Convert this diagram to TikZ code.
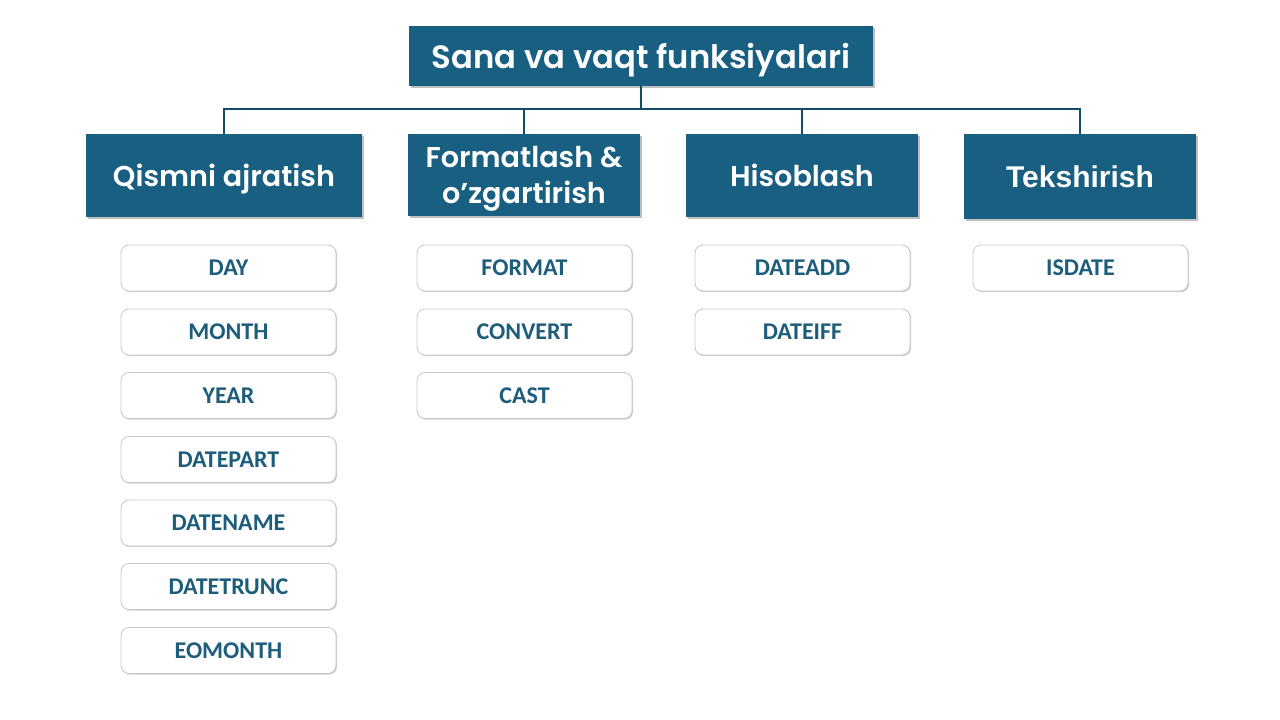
\documentclass[tikz,border=0pt]{standalone}
\usepackage{fontspec}
\newfontfamily\popfont{Poppins SemiBold}
\newfontfamily\calfont{Carlito}
\newfontfamily\arialfont{Liberation Sans}
\usetikzlibrary{shadows}
\definecolor{dblue}{HTML}{185F82}
\definecolor{ltext}{HTML}{1D5D7C}
\begin{document}
\begin{tikzpicture}[x=0.75pt,y=-0.75pt,
  catbox/.style={fill=dblue, text=white, align=center, inner sep=0pt,
    minimum width=174pt, minimum height=61.5pt, text depth=0pt,
    font=\popfont\fontsize{21.5}{25}\selectfont,
    drop shadow={shadow xshift=1.2pt, shadow yshift=-1.2pt, opacity=0.25, fill=black}},
  leaf/.style={fill=white, draw=black!22, line width=0.6pt, rounded corners=6pt,
    minimum width=161.25pt, minimum height=34.5pt, inner sep=0pt, text=ltext,
    font=\calfont\bfseries\fontsize{18}{21}\selectfont,
    drop shadow={shadow xshift=0.8pt, shadow yshift=-0.8pt, opacity=0.2, fill=black}},
  conn/.style={draw=dblue!80!black, line width=1.3pt}]
\useasboundingbox (0,0) rectangle (1280,720);
\fill[white] (0,0) rectangle (1280,720);

\node[catbox, minimum width=348pt, minimum height=45pt,
  font=\popfont\fontsize{24.2}{28}\selectfont] (title) at (641,56) {Sana va vaqt funksiyalari};

\node[catbox, minimum width=207pt, minimum height=62.25pt] (c1) at (224,175.5) {Qismni ajratish};
\node[catbox, font=\popfont\fontsize{21.5}{26.5}\selectfont] (c2) at (524,175) {Formatlash \&\\o’zgartirish};
\node[catbox, minimum height=62.25pt] (c3) at (802,175.5) {Hisoblash};
\node[catbox, minimum height=63.75pt, font=\arialfont\bfseries\fontsize{22.5}{26}\selectfont] (c4) at (1080,176.5) {Tekshirish};

\coordinate (bus) at (641,109);
\draw[conn] (title.south) -- (bus);
\draw[conn] (c1.north) |- (bus) -| (c4.north);
\draw[conn] (c2.north) -- (c2.north |- bus);
\draw[conn] (c3.north) -- (c3.north |- bus);

\node[leaf] (l11) at (228.5,268) {DAY};
\node[leaf] (l12) at (228.5,332) {MONTH};
\node[leaf] (l13) at (228.5,395.5) {YEAR};
\node[leaf] (l14) at (228.5,459.5) {DATEPART};
\node[leaf] (l15) at (228.5,523) {DATENAME};
\node[leaf] (l16) at (228.5,586.5) {DATETRUNC};
\node[leaf] (l17) at (228.5,650.5) {EOMONTH};

\node[leaf] (l21) at (524.5,268) {FORMAT};
\node[leaf] (l22) at (524.5,332) {CONVERT};
\node[leaf] (l23) at (524.5,395.5) {CAST};

\node[leaf] (l31) at (802.5,268) {DATEADD};
\node[leaf] (l32) at (802.5,332) {DATEIFF};

\node[leaf] (l41) at (1080.5,268) {ISDATE};
\end{tikzpicture}
\end{document}
